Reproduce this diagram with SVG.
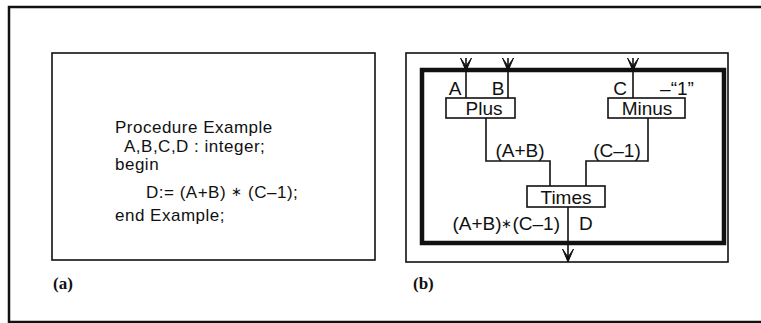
<svg xmlns="http://www.w3.org/2000/svg" width="761" height="323" viewBox="0 0 761 323">
<defs>
<style>
.frame{fill:none;stroke:#111;stroke-width:2.5}
.box{fill:#fff;stroke:#111;stroke-width:1.6}
.thick{fill:none;stroke:#111;stroke-width:4.5}
.ln{fill:none;stroke:#111;stroke-width:1.6}
.code{font-family:"Liberation Sans",Arial,sans-serif;font-size:17px;letter-spacing:0.5px;fill:#111}
.lbl{font-family:"Liberation Sans",Arial,sans-serif;font-size:19px;fill:#111}
.star{font-size:13px}
.cap{font-family:"Liberation Serif","Times New Roman",serif;font-size:17px;font-weight:bold;fill:#111}
.ah{fill:#111;stroke:#111;stroke-width:1;stroke-linejoin:miter}
</style>
<path id="arr" d="M-5.5,-13 L0,0 L5.5,-13 L0,-5 Z"/>
</defs>
<rect width="761" height="323" fill="#fff"/>
<path class="frame" d="M765,7 H9 V322 H765"/>

<g id="panel-a">
<rect class="box" x="52" y="53" width="323" height="207"/>
<text class="code" x="115" y="133">Procedure Example</text>
<text class="code" x="124" y="152">A,B,C,D : integer;</text>
<text class="code" x="115" y="170">begin</text>
<text class="code" x="146" y="198">D:= (A+B) <tspan class="star" dy="-2">∗</tspan><tspan dy="2"> (C–1);</tspan></text>
<text class="code" x="115" y="221">end Example;</text>
<text class="cap" x="53" y="289">(a)</text>
</g>

<g id="panel-b">
<rect class="box" x="406" y="53" width="322" height="209"/>
<rect class="thick" x="422" y="70" width="302" height="173"/>
<text class="cap" x="413" y="289">(b)</text>
</g>

<g id="connectors">
<path class="ln" d="M466,58 V98"/>
<path class="ln" d="M508,58 V98"/>
<path class="ln" d="M633,58 V98"/>
<path class="ln" d="M486,118 V161 H550 V186"/>
<path class="ln" d="M648,118 V161 H586 V186"/>
<path class="ln" d="M568,207 V261"/>
<use class="ah" href="#arr" x="466" y="71"/>
<use class="ah" href="#arr" x="508" y="71"/>
<use class="ah" href="#arr" x="633" y="71"/>
<use class="ah" href="#arr" x="568" y="262"/>
<text class="lbl" x="455" y="95" text-anchor="middle">A</text>
<text class="lbl" x="498" y="95" text-anchor="middle">B</text>
<text class="lbl" x="620" y="95" text-anchor="middle">C</text>
<text class="lbl" x="677" y="95" text-anchor="middle">–“1”</text>
<text class="lbl" x="520" y="157" text-anchor="middle">(A+B)</text>
<text class="lbl" x="617" y="157" text-anchor="middle">(C–1)</text>
<text class="lbl" x="560" y="230" text-anchor="end">(A+B)<tspan class="star" dy="-2">∗</tspan><tspan dy="2">(C–1)</tspan></text>
<text class="lbl" x="579" y="230">D</text>
</g>

<g id="plus">
<rect class="box" x="446" y="98" width="69" height="20"/>
<text class="lbl" x="484" y="115" text-anchor="middle">Plus</text>
</g>
<g id="minus">
<rect class="box" x="608" y="98" width="77" height="20"/>
<text class="lbl" x="647" y="115" text-anchor="middle">Minus</text>
</g>
<g id="times">
<rect class="box" x="527" y="186" width="78" height="21"/>
<text class="lbl" x="566" y="204" text-anchor="middle">Times</text>
</g>
</svg>
